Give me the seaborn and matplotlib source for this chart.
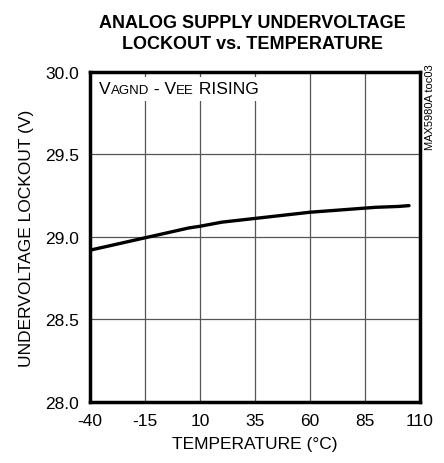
import matplotlib
matplotlib.use("Agg")
import matplotlib.pyplot as plt
import seaborn as sns
import pandas as pd
from matplotlib.offsetbox import TextArea, HPacker, AnchoredOffsetbox

temperature = [-40, -30, -20, -10, 0, 5, 10, 20, 30, 40, 50, 60, 70, 80, 90, 100, 105]
uvlo = [28.92, 28.95, 28.98, 29.01, 29.04, 29.055, 29.065, 29.09, 29.105, 29.12,
        29.135, 29.15, 29.16, 29.17, 29.18, 29.185, 29.19]
xticks = [-40, -15, 10, 35, 60, 85, 110]
yticks = [28.0, 28.5, 29.0, 29.5, 30.0]

sns.set_theme(style="white")
plt.rcParams['font.family'] = ['Liberation Sans Narrow', 'Liberation Sans', 'DejaVu Sans']
plt.rcParams['text.color'] = 'black'
plt.rcParams['axes.labelcolor'] = 'black'

df = pd.DataFrame({"T": temperature, "V": uvlo})
fig = plt.figure(figsize=(4.44, 4.64), dpi=100)
ax = fig.add_axes([0.2027, 0.1315, 0.7433, 0.7112])
sns.lineplot(data=df, x="T", y="V", ax=ax, color="black", linewidth=2.4)

ax.set_xlim(-40, 110)
ax.set_ylim(28.0, 30.0)
ax.set_xticks(xticks)
ax.set_xticklabels([str(t) for t in xticks], fontsize=12.5)
ax.set_yticks(yticks)
ax.set_yticklabels([f"{v:.1f}" for v in yticks], fontsize=12.5)
ax.tick_params(axis='both', length=0, pad=8, colors='black')
ax.grid(True, color='#555555', linewidth=0.9)
for s in ax.spines.values():
    s.set_linewidth(2.5)
    s.set_color('black')
ax.set_xlabel("TEMPERATURE (°C)", fontsize=12.5, labelpad=6)
ax.set_ylabel("UNDERVOLTAGE LOCKOUT (V)", fontsize=12.5, labelpad=8)

fig.text(0.568, 0.927, "ANALOG SUPPLY UNDERVOLTAGE\nLOCKOUT vs. TEMPERATURE",
         ha='center', va='center', fontsize=13, fontweight='bold', linespacing=1.3)

parts = [("V", 12.5), ("AGND", 9.5), (" - V", 12.5), ("EE", 9.5), (" RISING", 12.5)]
areas = [TextArea(t, textprops=dict(fontsize=s, color='black')) for t, s in parts]
box = HPacker(children=areas, align="baseline", pad=0, sep=0)
anch = AnchoredOffsetbox(loc='upper left', child=box, pad=0.3, borderpad=0.3, frameon=True,
                         bbox_to_anchor=(0.0, 1.0), bbox_transform=ax.transAxes)
anch.patch.set_facecolor('white')
anch.patch.set_edgecolor('none')
ax.add_artist(anch)

fig.text(0.968, 0.769, "MAX5980A toc03", rotation=90, ha='center', va='center', fontsize=8)

fig.savefig("out.png", dpi=100, facecolor='white')
